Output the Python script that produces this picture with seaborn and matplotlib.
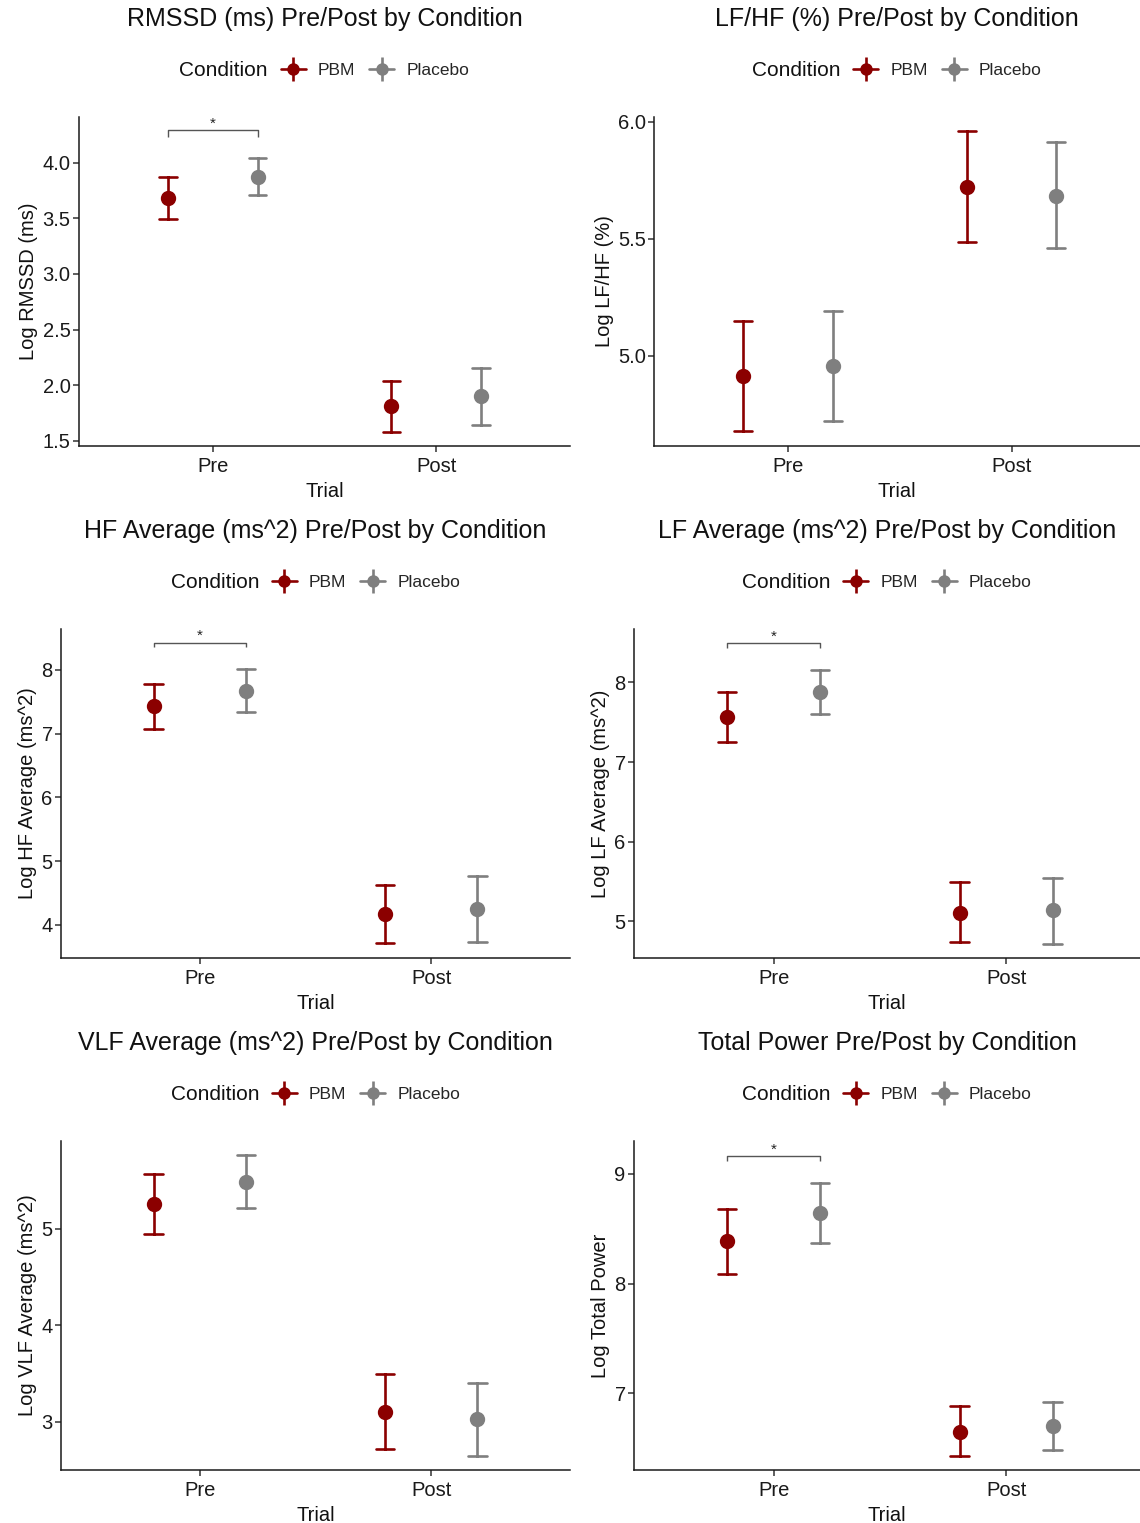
import numpy as np
import pandas as pd
import matplotlib
matplotlib.use("Agg")
import matplotlib.pyplot as plt
from matplotlib.lines import Line2D
from matplotlib.legend_handler import HandlerTuple
import seaborn as sns

# ---------------- data ----------------
trials = ["Pre", "Post"]
conditions = ["PBM", "Placebo"]

rmssd_pbm_mean = [3.68, 1.81]
rmssd_pbm_lo = [3.49, 1.58]
rmssd_pbm_hi = [3.87, 2.04]
rmssd_pla_mean = [3.87, 1.90]
rmssd_pla_lo = [3.71, 1.64]
rmssd_pla_hi = [4.04, 2.16]

lfhf_pbm_mean = [4.915, 5.72]
lfhf_pbm_lo = [4.68, 5.487]
lfhf_pbm_hi = [5.15, 5.96]
lfhf_pla_mean = [4.957, 5.684]
lfhf_pla_lo = [4.72, 5.46]
lfhf_pla_hi = [5.19, 5.915]

hf_pbm_mean = [7.435, 4.17]
hf_pbm_lo = [7.075, 3.72]
hf_pbm_hi = [7.78, 4.63]
hf_pla_mean = [7.67, 4.25]
hf_pla_lo = [7.34, 3.73]
hf_pla_hi = [8.02, 4.76]

lf_pbm_mean = [7.56, 5.11]
lf_pbm_lo = [7.25, 4.74]
lf_pbm_hi = [7.875, 5.49]
lf_pla_mean = [7.875, 5.14]
lf_pla_lo = [7.60, 4.72]
lf_pla_hi = [8.16, 5.55]

vlf_pbm_mean = [5.26, 3.10]
vlf_pbm_lo = [4.95, 2.72]
vlf_pbm_hi = [5.57, 3.49]
vlf_pla_mean = [5.49, 3.03]
vlf_pla_lo = [5.22, 2.65]
vlf_pla_hi = [5.77, 3.40]

tp_pbm_mean = [8.39, 6.65]
tp_pbm_lo = [8.09, 6.43]
tp_pbm_hi = [8.68, 6.88]
tp_pla_mean = [8.64, 6.70]
tp_pla_lo = [8.37, 6.48]
tp_pla_hi = [8.92, 6.92]

titles = [
    "RMSSD (ms) Pre/Post by Condition",
    "LF/HF (%) Pre/Post by Condition",
    "HF Average (ms^2) Pre/Post by Condition",
    "LF Average (ms^2) Pre/Post by Condition",
    "VLF Average (ms^2) Pre/Post by Condition",
    "Total Power Pre/Post by Condition",
]
ylabels = [
    "Log RMSSD (ms)",
    "Log LF/HF (%)",
    "Log HF Average (ms^2)",
    "Log LF Average (ms^2)",
    "Log VLF Average (ms^2)",
    "Log Total Power",
]
yticks = [
    [1.5, 2.0, 2.5, 3.0, 3.5, 4.0],
    [5.0, 5.5, 6.0],
    [4, 5, 6, 7, 8],
    [5, 6, 7, 8],
    [3, 4, 5],
    [7, 8, 9],
]
ytick_fmt = ["{:.1f}", "{:.1f}", "{:d}", "{:d}", "{:d}", "{:d}"]
ylims = [(1.455, 4.41), (4.615, 6.02), (3.48, 8.64), (4.54, 8.67), (2.50, 5.91), (6.30, 9.30)]
# significance brackets (Pre: PBM vs Placebo): (line y, tip y) or None
brackets = [(4.29, 4.23), None, (8.42, 8.35), (8.49, 8.43), None, (9.16, 9.12)]

series = [
    ((rmssd_pbm_mean, rmssd_pbm_lo, rmssd_pbm_hi), (rmssd_pla_mean, rmssd_pla_lo, rmssd_pla_hi)),
    ((lfhf_pbm_mean, lfhf_pbm_lo, lfhf_pbm_hi), (lfhf_pla_mean, lfhf_pla_lo, lfhf_pla_hi)),
    ((hf_pbm_mean, hf_pbm_lo, hf_pbm_hi), (hf_pla_mean, hf_pla_lo, hf_pla_hi)),
    ((lf_pbm_mean, lf_pbm_lo, lf_pbm_hi), (lf_pla_mean, lf_pla_lo, lf_pla_hi)),
    ((vlf_pbm_mean, vlf_pbm_lo, vlf_pbm_hi), (vlf_pla_mean, vlf_pla_lo, vlf_pla_hi)),
    ((tp_pbm_mean, tp_pbm_lo, tp_pbm_hi), (tp_pla_mean, tp_pla_lo, tp_pla_hi)),
]

palette = {"PBM": "#8B0000", "Placebo": "#7F7F7F"}

# ---------------- style ----------------
sns.set_style("ticks")
plt.rcParams["font.family"] = ["Liberation Sans", "DejaVu Sans"]

W, H = 1140, 1523
fig = plt.figure(figsize=(W / 100, H / 100), dpi=100)

# axes boxes in pixels: left, right, top, bottom
boxes = [
    (79, 570, 117, 446),
    (654, 1140, 117, 446),
    (61, 570, 629, 958),
    (634, 1140, 629, 958),
    (61, 570, 1141, 1470),
    (634, 1140, 1141, 1470),
]


def long_frame(pbm, pla):
    rows = []
    for cond, (mean, lo, hi) in zip(conditions, (pbm, pla)):
        for i, t in enumerate(trials):
            for v in (lo[i], mean[i], hi[i]):
                rows.append({"Trial": t, "Condition": cond, "Value": v})
    return pd.DataFrame(rows)


for k in range(6):
    l, r, t, b = boxes[k]
    ax = fig.add_axes([l / W, 1 - b / H, (r - l) / W, (b - t) / H])
    df = long_frame(*series[k])
    sns.pointplot(
        data=df, x="Trial", y="Value", hue="Condition",
        order=trials, hue_order=conditions, palette=palette,
        estimator="median", errorbar=lambda v: (v.min(), v.max()),
        dodge=0.4, linestyle="none", markers="o", markersize=9,
        capsize=0.08, err_kws={"linewidth": 1.9},
        legend=False, ax=ax,
    )
    ax.set_xlim(-0.6, 1.6 if k % 2 == 0 else 1.575)
    ax.set_ylim(*ylims[k])
    ax.set_yticks(yticks[k])
    ax.set_yticklabels([ytick_fmt[k].format(v) for v in yticks[k]])
    ax.set_xlabel("Trial", fontsize=14.5, color="#111111", labelpad=4)
    ax.set_ylabel(ylabels[k], fontsize=14.5, color="#111111", labelpad=3)
    sns.despine(ax=ax)
    for s in ("left", "bottom"):
        ax.spines[s].set_linewidth(1.1)
        ax.spines[s].set_color("#1a1a1a")
    ax.tick_params(axis="both", length=4, width=1.1, color="#333333",
                   labelsize=14.5, labelcolor="#1a1a1a")
    ax.tick_params(axis="x", pad=4)
    ax.tick_params(axis="y", pad=2)

    br = brackets[k]
    if br is not None:
        ytop, ytip = br
        ax.plot([-0.2, -0.2, 0.2, 0.2], [ytip, ytop, ytop, ytip],
                color="#555555", lw=1.0, solid_capstyle="butt")
        ax.text(0.0, ytop, "*", ha="center", va="bottom", fontsize=11, color="#222222")

    # title & legend
    cx = (l + r) / 2 if k % 2 == 0 else (l + 1140) / 2
    ty = [19, 19, 531, 531, 1043, 1043][k]
    ly = [70, 70, 582, 582, 1094, 1094][k]
    fig.text(cx / W, 1 - ty / H, titles[k], ha="center", va="center",
             fontsize=18, color="#111111")
    fig.text((cx - 56.5) / W, 1 - ly / H, "Condition", ha="right", va="center",
             fontsize=15, color="#111111")
    handles = []
    for c in conditions:
        h1 = Line2D([], [], color=palette[c], lw=1.9, marker="|",
                    markersize=17, markeredgewidth=1.9)
        h2 = Line2D([], [], color=palette[c], lw=0, marker="o", markersize=9,
                    markeredgewidth=0)
        handles.append((h1, h2))
    ax.legend(handles, conditions, handler_map={tuple: HandlerTuple(ndivide=1, pad=0)},
              loc="center left", bbox_to_anchor=((cx - 44) / W, 1 - ly / H),
              bbox_transform=fig.transFigure, ncol=2, frameon=False,
              fontsize=12.5, handlelength=1.45, handletextpad=0.7,
              columnspacing=0.8, borderpad=0, borderaxespad=0)

fig.savefig("out.png", dpi=100)
